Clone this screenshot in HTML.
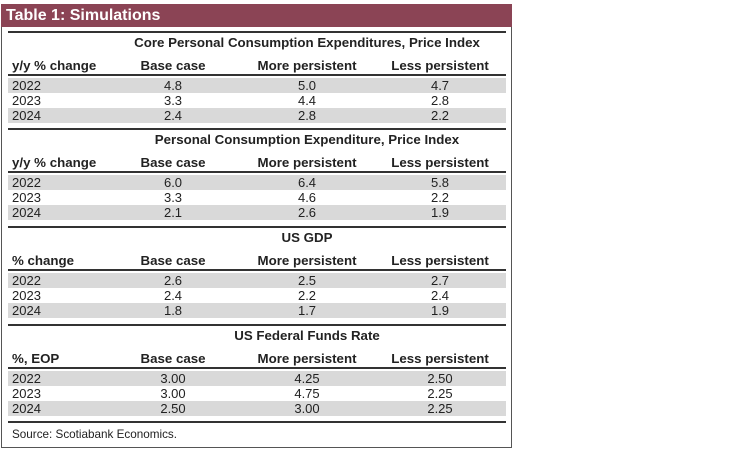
<!DOCTYPE html>
<html><head><meta charset="utf-8"><style>
*{margin:0;padding:0;box-sizing:border-box}
body{width:745px;height:455px;background:#fff;position:relative;overflow:hidden;font-family:"Liberation Sans",sans-serif;color:#222}
.a{position:absolute;white-space:nowrap}
.frame{left:1px;top:4px;width:511px;height:444px;border:1px solid #555;border-top:none}
.bar{left:1px;top:4px;width:511px;height:23px;background:#8b4455;color:#fff;font-weight:bold;font-size:16px;line-height:23px;padding-left:5px}
.rule{left:8px;width:498px;height:2px;background:#333}
.uline{left:8px;width:498px;height:2px;background:#333}
.gray{left:8px;width:498px;height:15px;background:#d9d9d9}
.t{font-weight:bold;font-size:13.3px;line-height:16px}
.h{font-weight:bold;font-size:13.3px;line-height:16px}
.v{font-size:13px;line-height:15px}
.c{transform:translateX(-50%)}
</style></head><body>
<div class="a frame"></div>
<div class="a bar">Table 1: Simulations</div>
<div id="s"></div>
<script>
var secs=[
{top:31,title:"Core Personal Consumption Expenditures, Price Index",lab:"y/y % change",rows:[["4.8","5.0","4.7"],["3.3","4.4","2.8"],["2.4","2.8","2.2"]]},
{top:128,title:"Personal Consumption Expenditure, Price Index",lab:"y/y % change",rows:[["6.0","6.4","5.8"],["3.3","4.6","2.2"],["2.1","2.6","1.9"]]},
{top:226,title:"US GDP",lab:"% change",rows:[["2.6","2.5","2.7"],["2.4","2.2","2.4"],["1.8","1.7","1.9"]]},
{top:324,title:"US Federal Funds Rate",lab:"%, EOP",rows:[["3.00","4.25","2.50"],["3.00","4.75","2.25"],["2.50","3.00","2.25"]]}];
var h="",cx=[173,307,440],yrs=["2022","2023","2024"];
secs.forEach(function(s,i){
var t=s.top;
h+='<div class="a rule" style="top:'+t+'px"></div>';
h+='<div class="a t c" style="left:307px;top:'+(t+4)+'px">'+s.title+'</div>';
h+='<div class="a h" style="left:12px;top:'+(t+27)+'px">'+s.lab+'</div>';
["Base case","More persistent","Less persistent"].forEach(function(c,j){h+='<div class="a h c" style="left:'+cx[j]+'px;top:'+(t+27)+'px">'+c+'</div>';});
h+='<div class="a uline" style="top:'+(t+43)+'px"></div>';
s.rows.forEach(function(r,k){var y=t+47+k*15;
if(k!=1)h+='<div class="a gray" style="top:'+y+'px"></div>';
h+='<div class="a v" style="left:12px;top:'+y+'px">'+yrs[k]+'</div>';
r.forEach(function(v,j){h+='<div class="a v c" style="left:'+cx[j]+'px;top:'+y+'px">'+v+'</div>';});});
});
h+='<div class="a rule" style="top:421px"></div>';
h+='<div class="a" style="left:12px;top:428px;font-size:11.7px">Source: Scotiabank Economics.</div>';
document.getElementById("s").innerHTML=h;
</script>
</body></html>
